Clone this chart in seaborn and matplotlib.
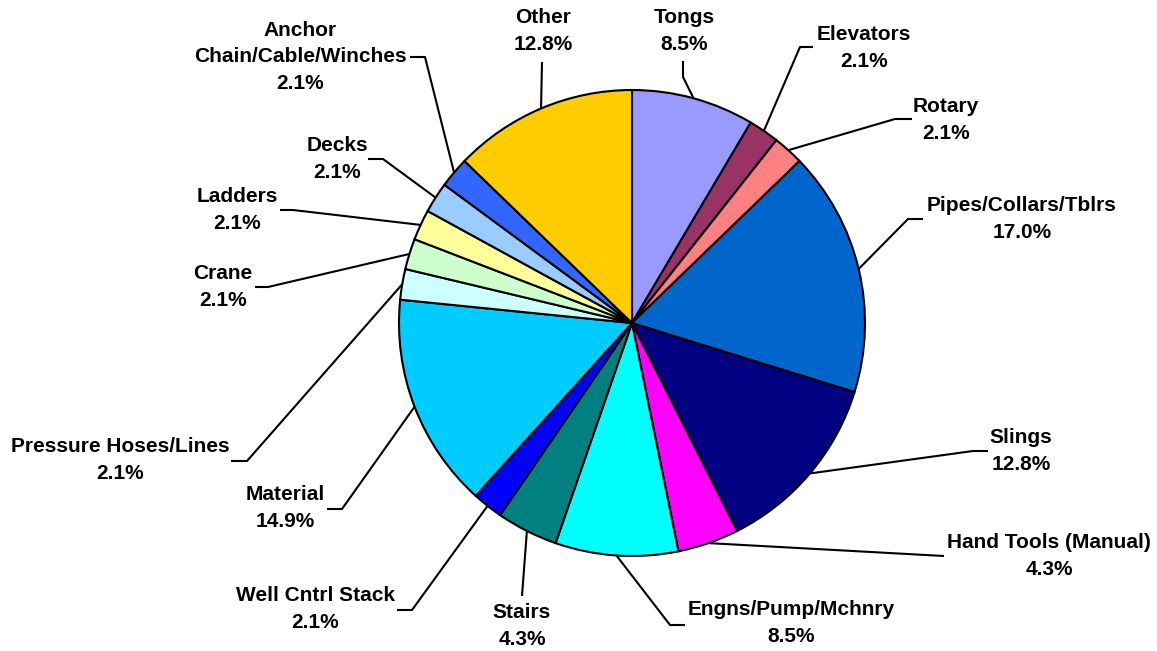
import numpy as np
import matplotlib
matplotlib.use("Agg")
import matplotlib.pyplot as plt
import seaborn as sns

# ── Data (incident counts, clockwise from 12 o'clock) ────────────────────────
categories = ["Tongs", "Elevators", "Rotary", "Pipes/Collars/Tblrs", "Slings",
              "Hand Tools (Manual)", "Engns/Pump/Mchnry", "Stairs",
              "Well Cntrl Stack", "Material", "Pressure Hoses/Lines", "Crane",
              "Ladders", "Decks", "Anchor\nChain/Cable/Winches", "Other"]
counts = [4, 1, 1, 8, 6, 2, 4, 2, 1, 7, 1, 1, 1, 1, 1, 6]
colors = ["#9999FF", "#993366", "#FF8080", "#0066CC", "#000080", "#FF00FF",
          "#00FFFF", "#008080", "#0000FF", "#00CCFF", "#CCFFFF", "#CCFFCC",
          "#FFFF99", "#99CCFF", "#3366FF", "#FFCC00"]

# label layout in pixels: text centre, leader start, leader elbow
text_px  = [(684, 31), (864, 48), (946, 120), (1022, 219), (1021, 451),
            (1049, 556), (791, 623), (522, 626), (315, 609), (285, 508),
            (120, 460), (223, 287), (237, 210), (337, 159), (300, 57),
            (543, 31)]
start_px = [(683, 61), (813, 47), (912, 119), (923, 219), (988, 451),
            (944, 556), (685, 625), (522, 596), (397, 610), (327, 509),
            (231, 461), (255, 287), (280, 210), (368, 159), (410, 57),
            (542, 62)]
elbow_px = [(683, 77), (800, 47), (895, 119), (908, 219), (973, 451),
            (944, 556), (670, 625), (522, 596), (412, 610), (342, 509),
            (247, 461), (268, 287), (293, 210), (383, 159), (425, 57),
            (542, 62)]

W, H = 1157, 651
CX, CY, R = 632, 323, 233


def px(p):
    return ((p[0] - CX) / R, (CY - p[1]) / R)


sns.set_theme(style="white")
plt.rcParams["font.family"] = ["Liberation Sans", "DejaVu Sans"]

fig = plt.figure(figsize=(W / 100, H / 100), dpi=100)
ax = fig.add_axes([0, 0, 1, 1])

wedges, _ = ax.pie(counts, colors=colors, startangle=90, counterclock=False,
                   radius=1, center=(0, 0),
                   wedgeprops=dict(edgecolor="black", linewidth=1.5))

total = sum(counts)
for i, w in enumerate(wedges):
    ang = np.deg2rad((w.theta1 + w.theta2) / 2)
    edge = (np.cos(ang), np.sin(ang))
    s, e = px(start_px[i]), px(elbow_px[i])
    ax.plot([s[0], e[0], edge[0]], [s[1], e[1], edge[1]],
            color="black", linewidth=1.5, solid_capstyle="butt", zorder=3)
    tx, ty = px(text_px[i])
    ax.text(tx, ty, f"{categories[i]}\n{counts[i] / total * 100:.1f}%",
            ha="center", va="center", fontsize=15, fontweight="bold",
            linespacing=1.52, color="black")

ax.set_xlim(-CX / R, (W - CX) / R)
ax.set_ylim(-(H - CY) / R, CY / R)
ax.set_aspect("equal", adjustable="box")
ax.axis("off")

fig.savefig("out.png", dpi=100, facecolor="white")
